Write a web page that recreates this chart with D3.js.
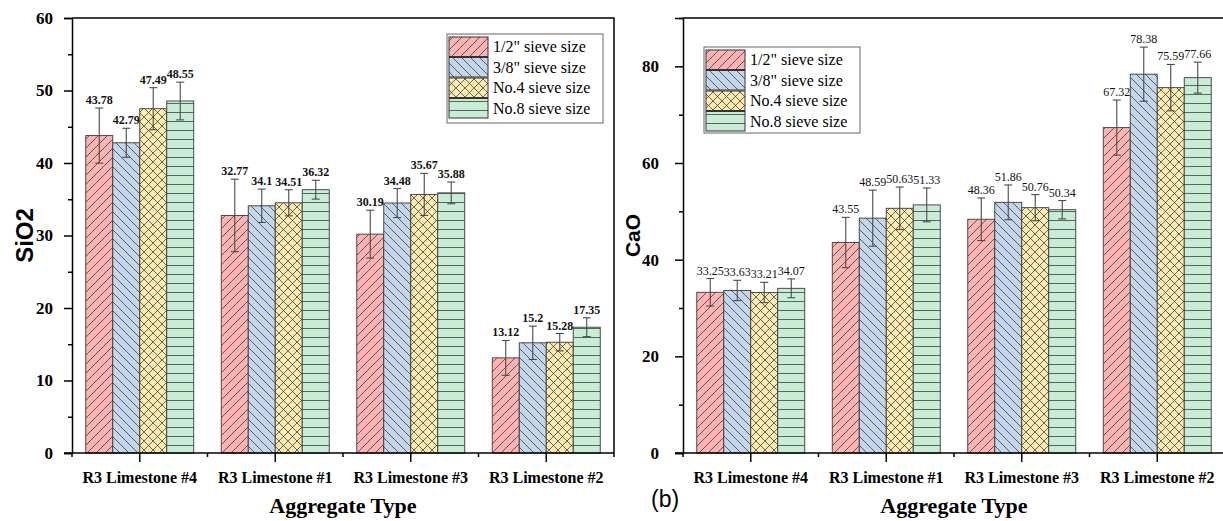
<!DOCTYPE html>
<html>
<head>
<meta charset="utf-8">
<script src="https://cdn.jsdelivr.net/npm/d3@7"></script>
<style>
  html, body { margin: 0; padding: 0; background: #fff; }
  svg { display: block; }
</style>
</head>
<body>
<svg id="chart" width="1223" height="521"></svg>
<script>
// Aggregate categories (x axis) and sieve-size series
const categories = ["R3 Limestone #4", "R3 Limestone #1", "R3 Limestone #3", "R3 Limestone #2"];
const seriesNames = ["1/2\" sieve size", "3/8\" sieve size", "No.4 sieve size", "No.8 sieve size"];

// SiO2 content per series, in category order
const sio2Half = [43.78, 32.77, 30.19, 13.12];
const sio2ThreeEighth = [42.79, 34.1, 34.48, 15.2];
const sio2No4 = [47.49, 34.51, 35.67, 15.28];
const sio2No8 = [48.55, 36.32, 35.88, 17.35];
// SiO2 standard deviations
const sio2HalfErr = [3.8, 5.0, 3.3, 2.4];
const sio2ThreeEighthErr = [2.0, 2.3, 2.0, 2.3];
const sio2No4Err = [2.9, 1.8, 2.9, 1.2];
const sio2No8Err = [2.6, 1.3, 1.5, 1.3];

// CaO content per series, in category order
const caoHalf = [33.25, 43.55, 48.36, 67.32];
const caoThreeEighth = [33.63, 48.59, 51.86, 78.38];
const caoNo4 = [33.21, 50.63, 50.76, 75.59];
const caoNo8 = [34.07, 51.33, 50.34, 77.66];
// CaO standard deviations
const caoHalfErr = [2.85, 5.2, 4.4, 5.7];
const caoThreeEighthErr = [2.1, 5.8, 3.6, 5.6];
const caoNo4Err = [2.1, 4.4, 2.7, 4.8];
const caoNo8Err = [1.95, 3.5, 1.9, 3.2];

// Axis ticks
const sio2Ticks = [0, 10, 20, 30, 40, 50, 60];
const sio2MinorTicks = [5, 15, 25, 35, 45, 55];
const caoTicks = [0, 20, 40, 60, 80];
const caoMinorTicks = [10, 30, 50, 70, 90];

const fills = ["#ffb3b3", "#c4d6ec", "#ffeab2", "#c9ecd6"];
const serif = "'Liberation Serif', 'Times New Roman', serif";
const sans = "'Liberation Sans', Arial, sans-serif";

const svg = d3.select("#chart");
const defs = svg.append("defs");

// Hatch patterns: "/" , "\" , cross-hatch, horizontal lines
const hatchPaths = [
  "M-1,10 L10,-1 M-3,3 L3,-3 M6,12 L12,6",
  "M-1,-1 L10,10 M-3,6 L3,12 M6,-3 L12,3",
  "M-1,-1 L10,10 M-3,6 L3,12 M6,-3 L12,3 M-1,10 L10,-1 M-3,3 L3,-3 M6,12 L12,6",
  "M0,4.5 H9"
];
fills.forEach((f, i) => {
  const p = defs.append("pattern")
    .attr("id", "hatch" + i)
    .attr("patternUnits", "userSpaceOnUse")
    .attr("width", 9).attr("height", 9);
  p.append("rect").attr("width", 9).attr("height", 9).attr("fill", f);
  p.append("path").attr("d", hatchPaths[i])
    .attr("stroke", "#2a2a2a").attr("stroke-width", 0.7).attr("fill", "none");
});

function drawChart(cfg) {
  const g = svg.append("g");
  const x = d3.scaleBand().domain(categories).range([cfg.x0, cfg.x1]).padding(0);
  const sub = d3.scaleBand().domain(d3.range(4)).range([0, x.step()])
    .paddingInner(0).paddingOuter(0.51);
  const y = d3.scaleLinear().domain([0, cfg.yMax]).range([cfg.yBottom, cfg.yTop]);

  // Bars and error bars
  cfg.values.forEach((vals, si) => {
    const errs = cfg.errors[si];
    categories.forEach((c, ci) => {
      const v = vals[ci], e = errs[ci];
      const bx = x(c) + sub(si), bw = sub.bandwidth();
      g.append("rect")
        .attr("x", bx).attr("y", y(v))
        .attr("width", bw).attr("height", y(0) - y(v))
        .attr("fill", "url(#hatch" + si + ")")
        .attr("stroke", "#3a3a3a").attr("stroke-width", 0.9);
      const cx = bx + bw / 2;
      const eg = g.append("g").attr("stroke", "#4a4a4a").attr("stroke-width", 1.1);
      eg.append("line").attr("x1", cx).attr("x2", cx).attr("y1", y(v + e)).attr("y2", y(v - e));
      eg.append("line").attr("x1", cx - 4).attr("x2", cx + 4).attr("y1", y(v + e)).attr("y2", y(v + e));
      eg.append("line").attr("x1", cx - 4).attr("x2", cx + 4).attr("y1", y(v - e)).attr("y2", y(v - e));
      g.append("text")
        .attr("x", cx).attr("y", y(v + e) - 4)
        .attr("text-anchor", "middle")
        .attr("font-family", serif).attr("font-size", 12)
        .attr("font-weight", cfg.labelWeight)
        .attr("fill", "#111")
        .text(v);
    });
  });

  // Y axis
  const yAxis = d3.axisLeft(y).tickValues(cfg.ticks).tickSize(8).tickPadding(cfg.tickPad)
    .tickFormat(d3.format("d"));
  const ya = g.append("g").attr("transform", `translate(${cfg.x0},0)`).call(yAxis);
  ya.select(".domain").attr("stroke-width", 1.5);
  ya.selectAll(".tick line").attr("stroke-width", 1.5);
  ya.selectAll(".tick text").attr("font-family", serif).attr("font-size", 17)
    .attr("font-weight", "bold").attr("fill", "#000");
  g.append("g").attr("transform", `translate(${cfg.x0},0)`)
    .call(d3.axisLeft(y).tickValues(cfg.minor).tickSize(4).tickFormat(""))
    .call(s => s.select(".domain").remove())
    .selectAll(".tick line").attr("stroke-width", 1.5);

  // X axis: long ticks at category centres, short ticks at group boundaries
  const xAxis = d3.axisBottom(x).tickSize(9).tickPadding(10);
  const xa = g.append("g").attr("transform", `translate(0,${cfg.yBottom})`).call(xAxis);
  xa.select(".domain").attr("d", `M${cfg.x0 - 8},0H${cfg.frameRight}`).attr("stroke-width", 1.5);
  xa.selectAll(".tick line").attr("stroke-width", 1.5);
  xa.selectAll(".tick text").attr("font-family", serif).attr("font-size", 16)
    .attr("font-weight", "bold").attr("fill", "#000");
  const bounds = categories.map(c => x(c)).concat([x.range()[1]]);
  g.append("g").selectAll("line").data(bounds).join("line")
    .attr("x1", d => d).attr("x2", d => d)
    .attr("y1", cfg.yBottom).attr("y2", cfg.yBottom + 4)
    .attr("stroke", "#000").attr("stroke-width", 1.5);

  // Frame top and right
  g.append("path")
    .attr("d", `M${cfg.x0},${cfg.yTop}H${cfg.frameRight}V${cfg.yBottom}`)
    .attr("fill", "none").attr("stroke", "#000").attr("stroke-width", 1.5);

  // Axis titles
  g.append("text")
    .attr("x", (cfg.x0 + cfg.frameRight) / 2).attr("y", 513)
    .attr("text-anchor", "middle")
    .attr("font-family", serif).attr("font-size", 22).attr("font-weight", "bold")
    .text("Aggregate Type");
  g.append("text")
    .attr("transform", `translate(${cfg.yTitleX},${(cfg.yTop + cfg.yBottom) / 2}) rotate(-90)`)
    .attr("text-anchor", "middle")
    .attr("font-family", sans).attr("font-size", cfg.yTitleSize).attr("font-weight", "bold")
    .text(cfg.yTitle);

  // Legend
  const lg = g.append("g").attr("transform", `translate(${cfg.legX},${cfg.legY})`);
  lg.append("rect").attr("x", 0).attr("y", 0).attr("width", 156).attr("height", cfg.legH)
    .attr("fill", "#fff").attr("stroke", "#666").attr("stroke-width", 1);
  seriesNames.forEach((n, i) => {
    const ry = 3 + i * cfg.legRow;
    lg.append("rect").attr("x", 2).attr("y", ry).attr("width", 39).attr("height", cfg.legRow - 1)
      .attr("fill", "url(#hatch" + i + ")").attr("stroke", "#333").attr("stroke-width", 1);
    lg.append("text").attr("x", 46).attr("y", ry + cfg.legRow / 2 + 5)
      .attr("font-family", serif).attr("font-size", 16).attr("fill", "#000")
      .text(n);
  });
}

drawChart({
  x0: 72, x1: 614, frameRight: 614, yTop: 18, yBottom: 453, yMax: 60,
  ticks: sio2Ticks, minor: sio2MinorTicks, tickPad: 11,
  values: [sio2Half, sio2ThreeEighth, sio2No4, sio2No8],
  errors: [sio2HalfErr, sio2ThreeEighthErr, sio2No4Err, sio2No8Err],
  labelWeight: "bold",
  yTitle: "SiO2", yTitleX: 33, yTitleSize: 24,
  legX: 447, legY: 34, legH: 89, legRow: 20.5
});

drawChart({
  x0: 683, x1: 1225, frameRight: 1225, yTop: 18, yBottom: 453, yMax: 90,
  ticks: caoTicks, minor: caoMinorTicks, tickPad: 16,
  values: [caoHalf, caoThreeEighth, caoNo4, caoNo8],
  errors: [caoHalfErr, caoThreeEighthErr, caoNo4Err, caoNo8Err],
  labelWeight: "normal",
  yTitle: "CaO", yTitleX: 640, yTitleSize: 21,
  legX: 704, legY: 47, legH: 86, legRow: 20.5
});

// Panel tag
svg.append("text")
  .attr("x", 651).attr("y", 507)
  .attr("font-family", sans).attr("font-size", 23)
  .text("(b)");
</script>
</body>
</html>
